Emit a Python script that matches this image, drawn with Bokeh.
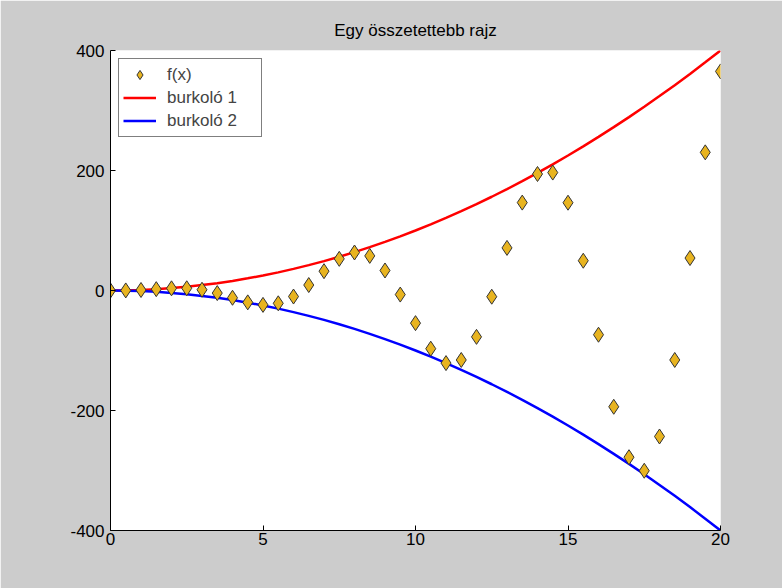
from bokeh.plotting import figure
from bokeh.models import ColumnDataSource, Legend, LegendItem, FixedTicker, Title
from bokeh.embed import file_html
from bokeh.resources import INLINE

x_vals = [0, 0.5, 1, 1.5, 2, 2.5, 3, 3.5, 4, 4.5, 5, 5.5, 6, 6.5, 7, 7.5, 8, 8.5, 9, 9.5,
          10, 10.5, 11, 11.5, 12, 12.5, 13, 13.5, 14, 14.5, 15, 15.5, 16, 16.5, 17, 17.5,
          18, 18.5, 19, 19.5, 20]
f_vals = [0, 0.12, 0.84, 2.24, 3.64, 3.74, 1.27, -4.30, -12.11, -19.79, -23.97, -21.34,
          -10.06, 9.09, 32.19, 52.76, 63.32, 57.69, 33.38, -6.79, -54.40, -96.99, -121.0,
          -115.78, -77.27, -10.36, 71.01, 146.49, 194.16, 196.56, 146.32, 49.61, -73.70,
          -193.79, -277.84, -300.40, -243.32, -115.78, 54.11, 230.24, 365.18]
env1 = [0, 0.25, 1, 2.25, 4, 6.25, 9, 12.25, 16, 20.25, 25, 30.25, 36, 42.25, 49, 56.25,
        64, 72.25, 81, 90.25, 100, 110.25, 121, 132.25, 144, 156.25, 169, 182.25, 196,
        210.25, 225, 240.25, 256, 272.25, 289, 306.25, 324, 342.25, 361, 380.25, 400]
env2 = [-v for v in env1]
x_ticks = [0, 5, 10, 15, 20]
y_ticks = [-400, -200, 0, 200, 400]
labels = ["f(x)", "burkoló 1", "burkoló 2"]

FONT = "Liberation Sans"
FS = "17px"
BG = "#cccccc"

p = figure(width=782, height=588, output_backend="svg", toolbar_location=None,
           x_range=(0, 20), y_range=(-400, 400),
           min_border_left=110, min_border_right=62, min_border_top=50, min_border_bottom=58,
           background_fill_color="white", border_fill_color=BG, outline_line_color=None)

t = Title(text="Egy összetettebb rajz", align="center", text_font=FONT,
          text_font_size=FS, text_font_style="normal", text_color="#000000",
          offset=0, standoff=21)
p.add_layout(t, "above")

p.grid.visible = False
for ax in (p.xaxis[0], p.yaxis[0]):
    ax.major_tick_in = 5
    ax.major_tick_out = 0
    ax.minor_tick_line_color = None
    ax.axis_line_color = "#000000"
    ax.major_tick_line_color = "#000000"
    ax.major_label_text_font = FONT
    ax.major_label_text_font_size = FS
    ax.major_label_text_color = "#000000"
p.xaxis[0].ticker = FixedTicker(ticks=x_ticks)
p.yaxis[0].ticker = FixedTicker(ticks=y_ticks)
p.xaxis[0].major_label_overrides = {v: str(v) for v in x_ticks}
p.yaxis[0].major_label_overrides = {v: str(v) for v in y_ticks}
p.xaxis[0].major_label_standoff = 2
p.yaxis[0].major_label_standoff = 6

r1 = p.line(x_vals, env1, line_color="#ff0000", line_width=2.5)
r2 = p.line(x_vals, env2, line_color="#0000ff", line_width=2.5)
src = ColumnDataSource(dict(x=x_vals, y=f_vals))
r0 = p.scatter("x", "y", source=src, marker="diamond", size=15,
               fill_color="#e8b420", line_color="#333333", line_width=1)

leg = Legend(items=[LegendItem(label=labels[0], renderers=[r0]),
                    LegendItem(label=labels[1], renderers=[r1]),
                    LegendItem(label=labels[2], renderers=[r2])],
             location="top_left", label_text_font=FONT, label_text_font_size=FS,
             border_line_color="#000000", border_line_width=1,
             background_fill_color="white", background_fill_alpha=1,
             margin=8, padding=4, spacing=0, glyph_width=33, glyph_height=23,
             label_height=23, label_width=90, label_standoff=11)
p.add_layout(leg)

open("out.html", "w").write(file_html(p, INLINE))
